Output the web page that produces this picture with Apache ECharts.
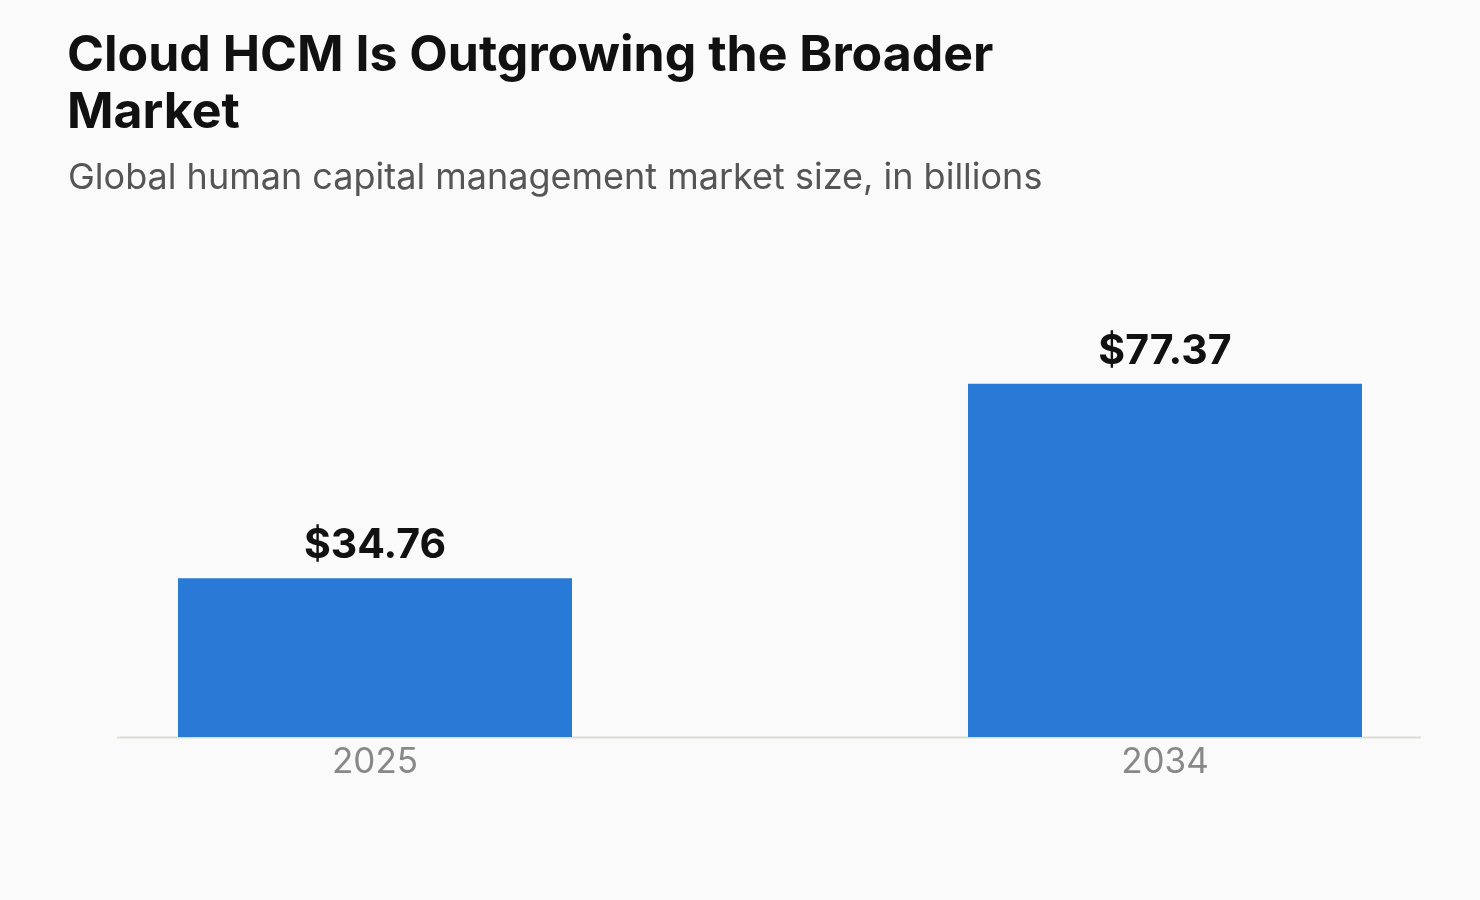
<!DOCTYPE html>
<html><head><meta charset="utf-8">
<script src="https://cdn.jsdelivr.net/npm/echarts@6/dist/echarts.min.js"></script>
<style>html,body{margin:0;padding:0;background:#fafafa}#c{width:1480px;height:900px}</style>
</head><body><div id="c"></div>
<script>
const categories = ['2025', '2034'];
const values = [34.76, 77.37];
const chart = echarts.init(document.getElementById('c'));
chart.setOption({
  backgroundColor: '#fafafa',
  title: [
    {text: 'Cloud HCM Is Outgrowing the Broader\nMarket', left: 62, top: 22,
     textStyle: {fontFamily: 'Inter', fontWeight: 'bold', fontSize: 50, lineHeight: 57, color: '#111'}},
    {text: 'Global human capital management market size, in billions', left: 63, top: 155,
     textStyle: {fontFamily: 'Inter', fontWeight: 'normal', fontSize: 36, color: '#555'}}
  ],
  graphic: [{type: 'line', shape: {x1: 117, y1: 737.5, x2: 1421, y2: 737.5},
    style: {stroke: '#dcdcd6', lineWidth: 2}, z: 0}],
  grid: {left: 375, right: 315, top: 280.5, bottom: 163},
  xAxis: {type: 'category', data: categories, boundaryGap: false,
    axisLine: {show: false}, axisTick: {show: false},
    axisLabel: {fontFamily: 'Inter', fontSize: 35, color: '#888', margin: 8}},
  yAxis: {type: 'value', min: 0, max: 100, show: false, splitLine: {show: false}},
  series: [{type: 'bar', data: values, barWidth: 394, clip: false, itemStyle: {color: '#2979d6'},
    label: {show: true, position: 'top', distance: 12, formatter: p => '$' + p.value.toFixed(2),
      fontFamily: 'Inter', fontWeight: 'bold', fontSize: 41, color: '#111'}}]
});
</script></body></html>
